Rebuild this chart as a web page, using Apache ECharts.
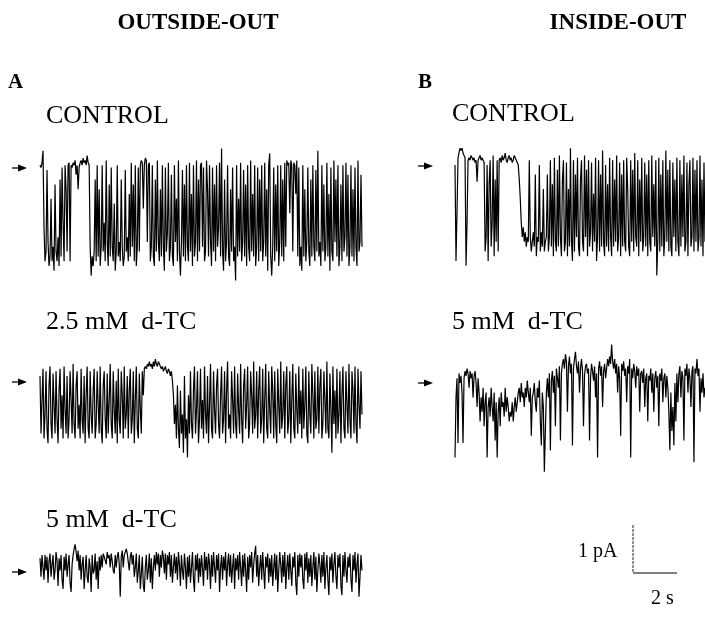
<!DOCTYPE html>
<html>
<head>
<meta charset="utf-8">
<script src="https://cdn.jsdelivr.net/npm/echarts@6/dist/echarts.min.js"></script>
<style>
  html, body { margin: 0; padding: 0; background: #fff; }
  #chart { width: 705px; height: 632px; }
</style>
</head>
<body>
<div id="chart"></div>
<script>
// Single-channel current traces, pA relative to the closed level (0 = closed, negative = open).
// One sample every ~45 ms.

// A: outside-out patch, control
const outsideControl = [
  0.1, 0.05, 0.15, 0.4, -1.2, -1.9, -1.7, 0.0, -1.5, -2.0,
  -1.8, -0.6, -1.9, -1.6, -2.1, -0.3, -1.7, -1.9, -1.4, -2.0,
  -0.2, -1.8, 0.05, -1.1, -1.9, 0.1, -0.4, -1.7, 0.1, 0.15,
  -1.9, 0.1, 0.05, 0.15, 0.1, 0.2, -0.1, 0.1, -0.4, 0.05,
  0.15, 0.2, 0.1, 0.25, 0.15, 0.2, 0.1, 0.3, 0.15, 0.1,
  -1.6, -2.2, -1.8, -2.0, -1.7, -0.2, -1.9, 0.1, -1.8, -0.4,
  -2.0, -1.6, 0.1, -1.7, -1.1, -1.9, 0.2, -1.5, -2.0, -0.3,
  -1.8, 0.05, -1.6, -1.9, -0.7, -2.1, -1.7, 0.1, -1.8, -1.5,
  -1.9, -0.2, -1.6, -2.0, -1.8, 0.0, -1.7, -1.4, -1.9, -0.5,
  -1.8, 0.15, -1.6, -0.3, -1.9, 0.1, -2.0, -1.6, 0.05, -1.7,
  0.1, 0.2, 0.15, -0.8, 0.1, 0.25, 0.2, -1.5, 0.1, 0.15,
  -1.9, -1.6, 0.1, -1.8, -2.0, -0.2, -1.7, 0.2, -1.5, -1.9,
  -0.4, -1.8, 0.1, -1.6, -2.1, 0.05, -1.7, -1.3, 0.15, -1.9,
  -1.6, -0.1, -1.8, -2.0, 0.1, -1.5, -0.6, -1.9, 0.2, -1.7,
  -2.2, -1.5, 0.0, -1.8, -0.3, -1.9, 0.1, -1.6, -1.9, 0.15,
  -1.7, -0.5, -2.0, 0.1, -1.8, -1.5, 0.2, -1.9, -0.2, -1.7,
  0.1, 0.15, -1.6, 0.05, -1.9, -1.7, 0.2, -0.4, -1.8, 0.1,
  -1.5, -2.0, 0.05, -1.7, -0.3, -1.9, 0.1, -1.6, -1.2, 0.15,
  -1.8, 0.45, -1.7, -2.1, -0.2, -1.9, -1.5, 0.1, -1.8, -2.0,
  -0.4, -1.7, 0.05, -1.9, -1.6, -2.3, 0.1, -1.8, -0.6, -1.7,
  0.15, -1.9, -1.5, 0.0, -1.8, -0.3, -2.0, 0.1, -1.6, -1.9,
  0.2, -1.7, -0.5, -1.8, 0.1, -2.0, -1.6, 0.05, -1.9, -0.2,
  -1.7, 0.1, -1.9, -1.5, 0.15, -1.8, -0.4, -2.1, 0.1, 0.35,
  -1.8, -2.2, -1.6, 0.05, -1.9, -0.3, -1.7, 0.1, -2.0, -1.5,
  0.1, -1.8, -0.2, -1.9, 0.15, -1.6, 0.2, 0.1, 0.15, -0.9,
  0.2, 0.1, -1.7, 0.15, 0.1, -0.5, 0.2, -1.8, 0.05, -2.0,
  -1.6, -2.1, 0.1, -1.8, -0.4, -1.9, -1.5, 0.05, -1.7, -2.0,
  -0.2, -1.8, 0.1, -1.6, -1.9, 0.0, -1.7, 0.4, -1.8, -1.5,
  -2.0, 0.1, -1.7, -0.3, -1.9, -1.6, 0.15, -1.8, -0.5, -2.1,
  0.05, -1.7, -1.9, 0.2, -1.5, -0.2, -1.8, 0.1, -2.0, -1.6,
  -0.3, -1.9, 0.1, -1.7, -1.4, 0.15, -1.8, -0.1, -2.0, -1.6,
  0.1, -1.8, -0.4, -1.9, 0.05, -1.6, -2.0, 0.2, -1.7, -1.5,
  -0.1, -1.6
];

// A: outside-out patch, 2.5 mM d-TC
const outside25 = [
  0.0, -1.2, -0.5, 0.15, -1.3, -0.8, 0.1, -1.1, -1.4, -0.2,
  0.2, -1.0, -1.3, 0.05, -0.6, -1.2, 0.1, -0.9, -1.4, -0.3,
  0.15, -1.1, -0.4, -1.3, 0.2, -0.7, -1.2, 0.0, -1.3, -0.9,
  0.1, -0.5, -1.2, 0.25, -1.0, -1.3, -0.2, 0.1, -1.1, -0.6,
  -1.3, 0.15, -0.9, -1.2, 0.0, -1.4, -0.4, 0.2, -1.1, -1.3,
  0.1, -0.8, -1.2, -0.3, 0.15, -1.3, -1.0, 0.1, -0.6, -1.2,
  0.2, -1.1, -1.4, -0.2, 0.1, -0.9, -1.3, 0.05, -1.2, -0.5,
  0.25, -1.0, -1.3, 0.1, -0.7, -1.2, -0.1, -1.4, 0.15, -0.9,
  -1.2, 0.1, -0.4, -1.3, 0.2, -1.1, -0.8, 0.0, -1.3, -0.3,
  0.15, -1.2, -0.9, 0.1, -1.4, -0.5, 0.2, -1.1, -1.3, 0.05,
  -0.7, -1.2, 0.1, -0.4, 0.15,
  0.2, 0.15, 0.25, 0.2, 0.3, 0.2, 0.25, 0.15, 0.3, 0.2,
  0.35, 0.25, 0.2, 0.3, 0.25, 0.2, 0.15, 0.2, 0.1, 0.15,
  0.2, 0.1, 0.05, 0.15, 0.1, 0.0, 0.1, -0.1,
  -0.4, -1.0, -0.6, -1.3, -0.2, -1.1, -1.5,
  -0.3, -1.2, -0.8, -1.6, 0.0, -1.3, -0.9, -1.7, -0.4, -1.2,
  0.1, -1.0, -1.3, -0.3, 0.2, -1.2, -0.7, 0.1, -1.4, -0.9,
  0.15, -1.1, -0.5, -1.3, 0.2, -0.8, -1.2, 0.0, -1.4, -0.6,
  0.25, -1.1, -1.3, 0.1, -0.7, -1.2, -0.2, 0.15, -1.0, -1.3,
  -0.4, 0.2, -1.2, -0.9, 0.1, -1.4, -0.3, 0.3, -1.1, -0.8,
  -1.3, 0.1, -0.5, -1.2, 0.2, -1.0, -1.3, 0.05, -0.7, -1.2,
  0.25, -0.9, -1.4, -0.2, 0.15, -1.1, -0.6, 0.2, -1.3, -1.0,
  0.1, -0.4, -1.2, 0.3, -1.1, -0.8, 0.1, -1.3, -0.3, 0.2,
  -1.2, -0.9, 0.15, -1.4, -0.5, 0.25, -1.1, -1.3, 0.1, -0.7,
  -1.2, 0.2, -0.3, -1.3, 0.1, -1.0, -1.4, 0.15, -0.6, -1.2,
  0.3, -1.1, -0.8, 0.1, -1.3, -0.2, 0.2, -1.2, -0.9, 0.1,
  -1.4, -0.5, 0.25, -1.1, -1.3, 0.05, -0.7, -1.2, 0.2, -1.0,
  -0.3, -1.3, 0.15, -1.1, -0.6, 0.2, -1.2, -1.4, 0.1, -0.8,
  -1.2, 0.25, -0.4, -1.3, 0.1, -1.1, -0.9, 0.2, -1.2, -0.2,
  0.15, -1.3, -1.0, 0.1, -0.5, -1.2, 0.3, -1.1, -1.3, 0.05,
  -0.7, -1.6, 0.2, -1.0, -0.3, -1.3, 0.15, -1.2, -0.8, 0.1,
  -1.4, -0.4, 0.2, -1.1, -1.3, 0.1, -0.6, -1.2, 0.25, -0.9,
  -1.3, 0.1, -0.3, -1.2, 0.2, -1.0, -1.4, 0.15, -0.6, -1.1, 0.1, -0.8
];

// A: outside-out patch, 5 mM d-TC
const outside5 = [
  0.0, -0.6, 0.1, -0.3, -0.7, 0.1, -0.4, 0.05, -0.8, -0.1,
  0.15, -0.6, -0.2, 0.1, -0.7, -0.4, 0.2, -0.1, -0.9, 0.0,
  -0.4, 0.1, -0.7, -1.0, 0.05, -0.4, 0.15, -0.6, -0.2, 0.1,
  -0.8, -1.1, -0.2, 0.1, 0.3, 0.45, 0.2, -0.1, 0.25, -0.4,
  0.1, -0.7, -0.2, 0.05, -1.0, -0.4, 0.1, -0.6, -0.8, 0.0,
  -0.3, -1.1, 0.1, -0.5, -0.4, 0.15, -0.7, -0.1, -1.0, 0.05,
  -0.4, 0.1, -0.3, 0.15, 0.05, 0.1, -0.2, 0.2, 0.0, 0.1,
  -0.3, 0.15, -0.1, -0.4, -0.5, 0.1, -0.3, 0.05, 0.2, -0.2,
  -1.25, 0.05, 0.25, -0.3, 0.1, 0.2, 0.3, 0.15, 0.1, -0.4,
  0.05, 0.2, -0.2, 0.1, -0.6, -0.3, 0.15, -0.8, -0.4, 0.1,
  -1.0, -0.5, 0.05, -0.9, -1.1, -0.3, 0.1, -0.7, -0.4, 0.15,
  -0.8, 0.0, -1.0, -0.3, 0.1, -0.4, 0.2, -0.2, 0.15, -0.6,
  0.1, -0.3, 0.25, 0.05, -0.5, 0.15, -0.7, 0.1, -0.2, 0.2,
  -0.6, 0.1, -0.8, -0.3, 0.15, -0.5, 0.05, -0.7, 0.2, -0.2,
  -0.9, 0.1, -0.4, -0.7, 0.15, -0.3, -1.0, 0.05, -0.6, 0.1,
  -0.8, -0.3, 0.2, -0.7, -1.1, 0.1, -0.4, 0.15, -0.8, 0.0,
  -0.6, 0.1, -0.3, -0.9, 0.2, -0.4, 0.05, -0.7, 0.15, -0.2,
  -1.0, 0.1, -0.6, 0.2, -0.3, -0.8, 0.1, -0.4, 0.15, -1.1,
  -0.3, 0.1, -0.7, 0.05, -0.4, 0.2, -0.9, -0.2, 0.15, -0.6,
  0.1, -0.8, -0.3, 0.15, -1.0, 0.0, -0.4, 0.1, -0.7, 0.2,
  -0.3, -0.9, 0.1, -0.6, 0.15, -0.4, -1.1, 0.05, -0.7, 0.1,
  -0.3, 0.2, -0.8, -0.2, 0.15, 0.4, -0.6, 0.1, -0.9, -0.3,
  0.1, -0.7, 0.2, -0.4, -1.0, 0.05, -0.3, 0.15, -0.8, 0.0,
  -0.6, 0.1, -0.9, -0.3, 0.15, -0.7, 0.1, -1.1, -0.4, 0.2,
  -0.2, -0.8, 0.1, -0.6, 0.2, -1.0, -0.3, 0.1, -0.7, 0.15,
  -0.4, -0.9, 0.05, -0.3, 0.2, -0.8, -1.2, 0.1, -0.6, 0.15,
  -0.3, 0.1, -0.7, -1.0, 0.15, -0.4, 0.2, -0.8, 0.0, -0.6,
  0.1, -0.9, -0.3, 0.2, -0.7, 0.05, -1.1, -0.4, 0.15, -0.2,
  -0.8, 0.1, -0.6, 0.2, -1.0, -0.3, 0.1, -0.7, -1.2, 0.05,
  -0.4, 0.15, -0.8, -0.2, 0.2, -0.6, -1.0, 0.1, -0.3, 0.15,
  -0.9, -1.2, 0.1, -0.6, 0.2, -0.4, -0.8, 0.05, -0.3, 0.15,
  -0.7, -1.1, 0.1, -0.4, 0.2, -0.8, -0.2, 0.15, -1.25, -0.6, 0.1, -0.4
];

// B: inside-out patch, control
const insideControl = [
  0.0, -2.0, -1.0,
  0.15, 0.25, 0.35, 0.3, 0.35, 0.25, 0.2, 0.15,
  -2.1, -1.2,
  0.1, 0.15, 0.1, 0.2, 0.15, 0.1, 0.15, 0.05, 0.1, -0.35,
  0.1, 0.15, 0.2, 0.1, 0.15, 0.1, 0.05,
  -1.8, -1.5, 0.0, -2.0, -0.4, 0.1, -1.7, -1.2, 0.2, -1.9, -0.3, -1.6, 0.1, -1.8,
  0.1, 0.15, 0.05, 0.2, 0.1, 0.15, 0.25, 0.1, 0.05, 0.15,
  0.2, 0.1, 0.15, 0.05, 0.1, 0.2, 0.15, 0.1, 0.05, 0.0,
  -0.3, -0.7, -1.2, -1.5, -1.3, -1.6, -1.4, -1.7, -1.5,
  -1.6, 0.1, -1.5, -1.8, -1.6, -1.4, -1.7, -0.2, -1.9, -1.5,
  -1.6, 0.0, -1.8, -1.4, -1.7, -0.5, -1.8, -1.6, -1.5,
  -0.2, -1.8, -1.5, 0.1, -1.7, -0.4, -1.9, 0.15, -1.6, -1.8,
  -0.1, -1.7, 0.2, -1.5, -1.9, -0.3, 0.1, -1.8, -1.6, 0.05,
  -1.9, -0.5, -1.7, 0.35, -1.6, -2.0, 0.1, -1.8, -0.2, -1.5,
  0.15, -1.7, -1.9, -0.3, 0.1, -1.6, -1.8, 0.2, -1.5, -0.1,
  -1.9, 0.1, -1.7, -1.4, 0.05, -1.8, -0.6, -1.6, 0.15, -2.0,
  -1.5, 0.1, -1.8, -0.2, -1.7, 0.3, -1.6, -1.9, 0.0, -1.7,
  -0.4, -1.8, 0.15, -1.5, -1.9, 0.1, -1.7, -0.3, -1.6, 0.2,
  -1.8, -1.5, 0.05, -1.9, -0.2, -1.7, 0.1, -1.6, -1.8, 0.15,
  -0.5, -1.7, -1.9, 0.1, -1.6, -0.1, -1.8, 0.25, -1.5, -1.7,
  0.1, -1.9, -0.3, -1.6, 0.15, -1.8, -1.5, 0.05, -1.7, -0.2,
  -1.9, 0.1, -1.6, -1.8, 0.2, -1.5, -0.4, -1.7, 0.1, -2.3,
  -1.6, 0.15, -1.8, -0.2, -1.7, 0.1, -1.9, -1.5, 0.3, -1.6,
  -0.1, -1.8, 0.1, -1.7, -1.9, 0.05, -1.5, -0.3, -1.8, 0.15,
  -1.6, -1.9, 0.1, -1.7, -0.2, -1.5, 0.2, -1.8, -1.6, 0.05,
  -1.9, -0.4, 0.1, -1.7, -1.5, 0.15, -1.8, -0.1, -1.6, 0.1,
  -1.8, -1.5, 0.2, -1.7, -0.3, -1.9, 0.05, -1.6
];

// B: inside-out patch, 5 mM d-TC
const inside5 = [
  -1.55, -0.3, 0.1, -1.25, 0.2, 0.0, 0.15, -0.2, -1.25, 0.1,
  0.25, 0.15, 0.3, 0.2, -0.1, 0.25, 0.1, 0.2, -0.3, 0.15,
  0.25, 0.0, -0.5, 0.1, -0.2, -0.8,
  -0.3, -0.6, -0.1, -0.9, -0.4, -0.2, -1.55, -0.5, -0.3, -0.7,
  -0.1, -0.5, -0.8, -0.2, -1.2, -0.4, -1.55, -0.6, -0.3, -0.9,
  -0.2, -0.5, -0.4, -0.7, -0.1, -0.6, -0.3,
  -0.5, -0.8, -0.6, -0.7, -0.4, -0.8, -0.5, -0.3, -0.6, -0.4,
  -0.2, -0.1, -0.4, 0.0, -0.3, -0.2, -0.5, -0.1, -0.3, 0.05,
  -0.2, -0.4, -0.1, -1.1, -0.3, -0.2, 0.0, -0.4, -0.6, -0.1,
  -0.3, 0.05, -0.8, -1.3, -0.2, -0.5,
  -1.85, -1.0, -0.2,
  0.1, -0.3, 0.2, -1.4, 0.05, 0.25, -0.2, 0.15, -0.9, 0.3,
  0.1, -0.1, 0.35, -1.2, 0.2, 0.4,
  0.5, 0.3, 0.6, 0.45, -0.6, 0.35, 0.55, 0.2, 0.4, -1.3,
  0.3, 0.5, 0.65, 0.35, 0.2, 0.45, -0.2, 0.3, 0.5, 0.25,
  -0.9, 0.15, 0.35, 0.4, 0.2,
  0.3, -1.2, 0.1, 0.4, 0.25, 0.05, 0.35, -0.3, 0.2, -1.55,
  0.3, 0.45, 0.15, 0.35, -0.5, 0.25, 0.4, 0.1, 0.3, 0.5,
  0.35, 0.55, 0.4, 0.8, 0.45,
  0.3, 0.5, 0.2, 0.4, -0.2, 0.35, 0.1, -1.1, 0.4, 0.25,
  0.45, 0.15, 0.3, -0.4, 0.35, 0.2, 0.5, -1.55, 0.3, 0.1,
  0.4, 0.25, -0.1, 0.35, 0.15, 0.3, -0.6, 0.2,
  0.25, 0.0, 0.3, -0.5, 0.1, 0.2, -0.8, 0.15, 0.05, 0.3,
  -0.2, 0.2, -0.6, 0.1, 0.25, -0.1, 0.15, -0.9, 0.2, 0.05,
  0.3, -0.4, 0.1, 0.2, -0.3, 0.15, -0.1,
  -0.6, -1.4, -0.2, -1.0, -0.5, -1.3, 0.0, -0.8, 0.2, -0.4,
  0.2, 0.35, -0.3, 0.25, 0.1, -1.2, 0.3, 0.15, 0.4, -0.2,
  0.3, 0.1, -0.5, 0.25, 0.35, -1.65, 0.3, 0.2, 0.5, 0.15,
  0.3, -0.6, 0.1, -0.2, 0.2, -0.3, -0.1
];

// Calibration bar: 2 s by 1 pA
const scaleBarTime = [0, 0, 2];
const scaleBarCurrent = [1, 0, 0];

const PX_PER_PA = 48;
const Y_MIN = -2.4, Y_MAX = 0.8;
const SERIF = '"Liberation Serif", "DejaVu Serif", serif';

// Trace placement: left edge, width and pixel row of the closed level
const panels = [
  { data: outsideControl, left: 40,  width: 322, zeroY: 170 },
  { data: outside25,      left: 40,  width: 322, zeroY: 376 },
  { data: outside5,       left: 40,  width: 322, zeroY: 572 },
  { data: insideControl,  left: 455, width: 250, zeroY: 165 },
  { data: inside5,        left: 455, width: 250, zeroY: 383 }
];

const grid = [], xAxis = [], yAxis = [], series = [];
panels.forEach((p, k) => {
  grid.push({
    left: p.left, width: p.width,
    top: p.zeroY - Y_MAX * PX_PER_PA,
    height: (Y_MAX - Y_MIN) * PX_PER_PA
  });
  xAxis.push({ type: 'value', gridIndex: k, min: 0, max: p.data.length - 1, show: false });
  yAxis.push({ type: 'value', gridIndex: k, min: Y_MIN, max: Y_MAX, show: false });
  series.push({
    type: 'line', xAxisIndex: k, yAxisIndex: k,
    data: p.data.map((v, i) => [i, v]),
    showSymbol: false, silent: true,
    lineStyle: { color: '#000', width: 1.2 }
  });
});

// calibration bar grid
const sb = grid.length;
grid.push({ left: 633, top: 525, width: 44, height: 48 });
xAxis.push({ type: 'value', gridIndex: sb, min: 0, max: 2, show: false });
yAxis.push({ type: 'value', gridIndex: sb, min: 0, max: 1, show: false });
series.push({
  type: 'line', xAxisIndex: sb, yAxisIndex: sb,
  data: scaleBarTime.slice(0, 2).map((t, i) => [t, scaleBarCurrent[i]]),
  showSymbol: false, silent: true, clip: false,
  lineStyle: { color: '#222', width: 1, type: [3, 1] }
});
series.push({
  type: 'line', xAxisIndex: sb, yAxisIndex: sb,
  data: scaleBarTime.slice(1).map((t, i) => [t, scaleBarCurrent[i + 1]]),
  showSymbol: false, silent: true, clip: false,
  lineStyle: { color: '#000', width: 1 }
});

function arrow(x, y) {
  return [
    { type: 'line', shape: { x1: x, y1: y, x2: x + 8, y2: y }, style: { stroke: '#000', lineWidth: 1.3 } },
    { type: 'polygon', shape: { points: [[x + 6, y - 3.5], [x + 15, y], [x + 6, y + 3.5]] }, style: { fill: '#000' } }
  ];
}

function label(text, x, y, size, bold, align) {
  return {
    type: 'text', x: x, y: y,
    style: {
      text: text, fill: '#000',
      font: (bold ? 'bold ' : '') + size + 'px ' + SERIF,
      textAlign: align || 'left', textVerticalAlign: 'middle'
    }
  };
}

const graphic = [
  label('OUTSIDE-OUT', 198, 23, 23, true, 'center'),
  label('INSIDE-OUT', 618, 23, 23, true, 'center'),
  label('A', 8, 83, 21, true),
  label('B', 418, 83, 21, true),
  label('CONTROL', 46, 116, 26),
  label('CONTROL', 452, 114, 26),
  label('2.5 mM  d-TC', 46, 322, 26),
  label('5 mM  d-TC', 452, 322, 26),
  label('5 mM  d-TC', 46, 520, 26),
  label('1 pA', 578, 552, 20),
  label('2 s', 651, 599, 20),
  ...arrow(12, 168),
  ...arrow(12, 382),
  ...arrow(12, 572),
  ...arrow(418, 166),
  ...arrow(418, 383)
];

const chart = echarts.init(document.getElementById('chart'), null, { renderer: 'canvas' });
chart.setOption({
  animation: false,
  backgroundColor: '#fff',
  grid, xAxis, yAxis, series, graphic
});
</script>
</body>
</html>
